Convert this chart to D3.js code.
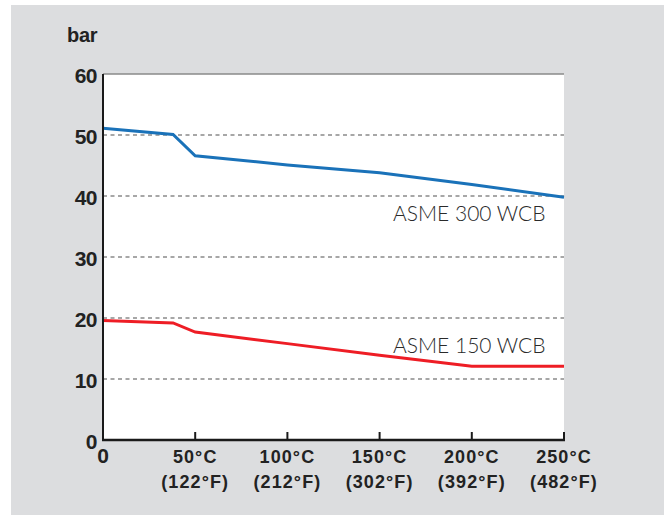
<!DOCTYPE html>
<html><head><meta charset="utf-8">
<script src="https://cdn.jsdelivr.net/npm/d3@7"></script>
<style>body{margin:0;background:#fff}svg{display:block}</style>
</head><body>
<script>
const temps300 = [0, 38, 50, 100, 150, 200, 250];
const asme300 = [51.1, 50.1, 46.6, 45.1, 43.8, 41.9, 39.8];
const temps150 = [0, 38, 50, 100, 150, 200, 250];
const asme150 = [19.6, 19.2, 17.7, 15.8, 13.9, 12.1, 12.1];
const yTicks = [0, 10, 20, 30, 40, 50, 60];
const xTicks = [0, 50, 100, 150, 200, 250];
const xLabelsC = ["0", "50°C", "100°C", "150°C", "200°C", "250°C"];
const xLabelsF = ["", "(122°F)", "(212°F)", "(302°F)", "(392°F)", "(482°F)"];
const seriesNames = ["ASME 300 WCB", "ASME 150 WCB"];

const W = 664, H = 515;
const svg = d3.select("body").append("svg").attr("width", W).attr("height", H);
svg.append("rect").attr("x", 11).attr("y", 5).attr("width", W - 11).attr("height", H - 5).attr("fill", "#dcdddf");

const x = d3.scaleLinear().domain([0, 250]).range([103, 564]);
const y = d3.scaleLinear().domain([0, 60]).range([440, 74]);
const font = "'Liberation Sans', Arial, sans-serif";

svg.append("rect").attr("x", x(0)).attr("y", y(60)).attr("width", x(250) - x(0)).attr("height", y(0) - y(60)).attr("fill", "#fff");

// grid
svg.append("g").selectAll("line").data(yTicks.filter(d => d > 0 && d < 60)).join("line")
  .attr("x1", x(0)).attr("x2", x(250)).attr("y1", d => y(d)).attr("y2", d => y(d))
  .attr("stroke", "#8a8a8a").attr("stroke-width", 1.5).attr("stroke-dasharray", "4,3.5");
svg.append("line").attr("x1", x(0)).attr("x2", x(250)).attr("y1", y(60)).attr("y2", y(60))
  .attr("stroke", "#8a8a8a").attr("stroke-width", 1.5);

// lines
const line = d3.line().x(d => x(d[0])).y(d => y(d[1]));
svg.append("path").datum(temps300.map((t, i) => [t, asme300[i]])).attr("d", line)
  .attr("fill", "none").attr("stroke", "#1a72b9").attr("stroke-width", 3);
svg.append("path").datum(temps150.map((t, i) => [t, asme150[i]])).attr("d", line)
  .attr("fill", "none").attr("stroke", "#ee1d25").attr("stroke-width", 3);

// axes
svg.append("line").attr("x1", x(0)).attr("x2", x(0)).attr("y1", y(60)).attr("y2", y(0) + 1)
  .attr("stroke", "#1a1a1a").attr("stroke-width", 2);
svg.append("line").attr("x1", x(0) - 1).attr("x2", x(250) + 1).attr("y1", y(0)).attr("y2", y(0))
  .attr("stroke", "#1a1a1a").attr("stroke-width", 2.5);
svg.append("g").selectAll("line").data(xTicks.filter(d => d > 0)).join("line")
  .attr("x1", d => x(d)).attr("x2", d => x(d)).attr("y1", y(0)).attr("y2", y(0) - 8)
  .attr("stroke", "#1a1a1a").attr("stroke-width", 2);

// y labels
svg.append("g").selectAll("text").data(yTicks).join("text")
  .attr("x", 97).attr("y", d => y(d) + 8.5).attr("text-anchor", "end")
  .attr("font-family", font).attr("font-weight", "bold").attr("font-size", 21).attr("fill", "#222")
  .attr("letter-spacing", -0.5)
  .text(d => d);
svg.append("text").attr("x", 67).attr("y", 42).attr("font-family", font).attr("font-weight", "bold")
  .attr("font-size", 20).attr("fill", "#222").attr("letter-spacing", -0.3).text("bar");

// x labels
svg.append("g").selectAll("text").data(xTicks).join("text")
  .attr("x", d => x(d)).attr("y", 463).attr("text-anchor", "middle")
  .attr("font-family", font).attr("font-weight", "bold").attr("font-size", (d, i) => i === 0 ? 21 : 18).attr("fill", "#222")
  .attr("letter-spacing", (d, i) => i === 0 ? 0 : 1.1)
  .text((d, i) => xLabelsC[i]);
svg.append("g").selectAll("text").data(xTicks).join("text")
  .attr("x", d => x(d)).attr("y", 488).attr("text-anchor", "middle")
  .attr("font-family", font).attr("font-weight", "bold").attr("font-size", 18).attr("fill", "#222")
  .attr("letter-spacing", 1.1)
  .text((d, i) => xLabelsF[i]);

// series labels
const lab = "'Lato', 'Open Sans', sans-serif";
svg.append("text").attr("x", 393).attr("y", 221).attr("font-family", lab).attr("font-weight", 300)
  .attr("font-size", 21).attr("fill", "#2a2a2a").text(seriesNames[0]);
svg.append("text").attr("x", 393).attr("y", 352.5).attr("font-family", lab).attr("font-weight", 300)
  .attr("font-size", 21).attr("fill", "#2a2a2a").text(seriesNames[1]);
</script>
</body></html>
